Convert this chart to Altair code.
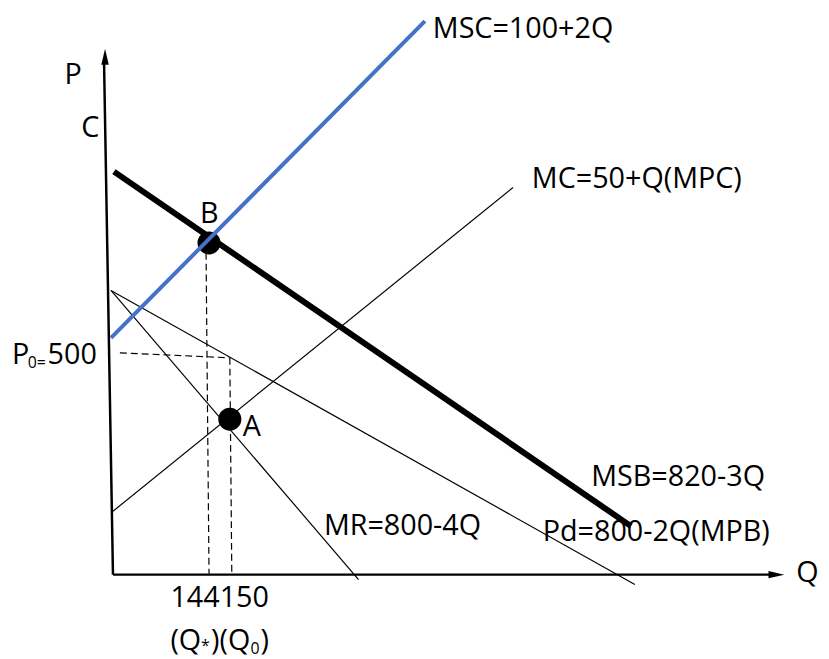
import altair as alt
import pandas as pd

# ---- diagram data (diagram units; origin at the axes' corner) ----
curve_names = ["MSC", "MSB", "MC", "Pd", "MR"]
curve_q1 = [-2, 1, 0, -2, -2]
curve_p1 = [239, 407, 64, 287, 287]
curve_q2 = [315, 523, 404, 527, 248]
curve_p2 = [559, 49, 391, -10, -5]

guide_names = ["Q* drop", "Q0 drop", "P0 level"]
guide_q1 = [94, 118, 7]
guide_p1 = [325, 219, 224]
guide_q2 = [97, 120, 118]
guide_p2 = [1, 1, 219]

axis_names = ["P axis", "Q axis"]
axis_q1 = [-9, 0]
axis_p1 = [517, 0]
axis_q2 = [0, 663]
axis_p2 = [0, 0]

arrow_names = ["P", "Q"]
arrow_q = [-8, 670]
arrow_p = [523, 0]

point_names = ["B", "A"]
point_q = [97, 118]
point_p = [335, 157]

# ---- labels ----
label_text = ["P", "C", "B", "A", "P", "500", "MSC=100+2Q", "MC=50+Q(MPC)",
              "MSB=820-3Q", "Pd=800-2Q(MPB)", "MR=800-4Q", "Q", "144150",
              "(Q", ")(Q", ")"]
label_q = [-49, -32, 88, 131, -102, -66, 323, 423, 483, 434, 213, 690, 58, 58, 99, 149]
label_p = [495, 442, 355, 140, 213, 213, 542, 390, 89, 34, 40, -7, -33, -76, -76, -76]

small_text = ["0", "=", "*", "0"]
small_q = [-86, -77, 89, 139]
small_p = [209, 209, -77, -80]

FONT = "Open Sans"
xs = alt.Scale(domain=[-106, 715], nice=False, zero=False)
ys = alt.Scale(domain=[-82, 569], nice=False, zero=False)


def seg_df(names, q1, p1, q2, p2):
    return pd.DataFrame({"name": names, "q1": q1, "p1": p1, "q2": q2, "p2": p2})


curves = seg_df(curve_names, curve_q1, curve_p1, curve_q2, curve_p2)
guides = seg_df(guide_names, guide_q1, guide_p1, guide_q2, guide_p2)
axes = seg_df(axis_names, axis_q1, axis_p1, axis_q2, axis_p2)


def rules(df, **style):
    return alt.Chart(df).mark_rule(**style).encode(
        x=alt.X("q1:Q", scale=xs, axis=None),
        y=alt.Y("p1:Q", scale=ys, axis=None),
        x2="q2:Q",
        y2="p2:Q",
    )


thin = rules(curves[curves.name.isin(["MC", "Pd", "MR"])], color="#000000", strokeWidth=1.2)
thick = rules(curves[curves.name == "MSB"], color="#000000", strokeWidth=6, strokeCap="butt")
blue = rules(curves[curves.name == "MSC"], color="#4472C4", strokeWidth=4, strokeCap="butt")
dash = rules(guides, color="#000000", strokeWidth=1.2, strokeDash=[7, 4])
ax = rules(axes, color="#000000", strokeWidth=2.5)

points = alt.Chart(pd.DataFrame({"name": point_names, "q": point_q, "p": point_p})).mark_point(
    filled=True, shape="circle", size=540, color="#000000", opacity=1
).encode(x=alt.X("q:Q", scale=xs, axis=None), y=alt.Y("p:Q", scale=ys, axis=None))

arrows_df = pd.DataFrame({"name": arrow_names, "q": arrow_q, "p": arrow_p, "ang": [0, 90]})
arrows = alt.Chart(arrows_df).mark_point(
    filled=True, shape="M0,-1L0.47,1L-0.47,1Z", size=256, color="#000000", opacity=1
).encode(
    x=alt.X("q:Q", scale=xs, axis=None),
    y=alt.Y("p:Q", scale=ys, axis=None),
    angle=alt.Angle("ang:Q", scale=None),
)

labels = alt.Chart(pd.DataFrame({"t": label_text, "q": label_q, "p": label_p})).mark_text(
    font=FONT, fontSize=29, align="left", baseline="alphabetic", color="#000000"
).encode(x=alt.X("q:Q", scale=xs, axis=None), y=alt.Y("p:Q", scale=ys, axis=None), text="t:N")

smalls = alt.Chart(pd.DataFrame({"t": small_text, "q": small_q, "p": small_p})).mark_text(
    font=FONT, fontSize=16, align="left", baseline="alphabetic", color="#000000"
).encode(x=alt.X("q:Q", scale=xs, axis=None), y=alt.Y("p:Q", scale=ys, axis=None), text="t:N")

chart = alt.layer(thin, dash, ax, thick, points, blue, arrows, labels, smalls).properties(
    width=821, height=651, padding=0, autosize=alt.AutoSizeParams(type="none"), background="#ffffff"
).configure_view(stroke=None)

chart.save("out.html", embed_options={"renderer": "svg", "actions": False})
